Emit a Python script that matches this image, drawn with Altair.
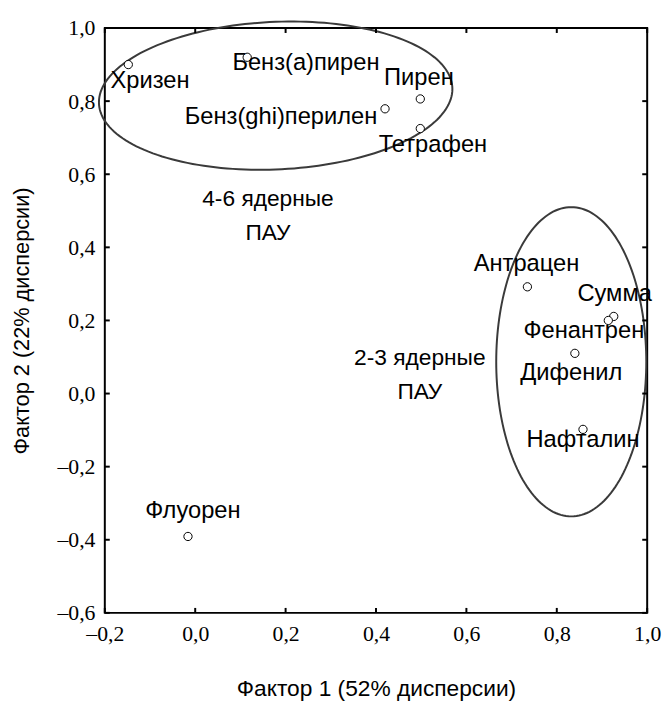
import altair as alt
import pandas as pd
import numpy as np

# Loadings (Factor 1, Factor 2)
names = ["Хризен", "Бенз(а)пирен", "Бенз(ghi)перилен", "Пирен", "Тетрафен",
         "Антрацен", "Сумма", "Фенантрен", "Дифенил", "Нафталин", "Флуорен"]
f1 = [-0.148, 0.115, 0.420, 0.498, 0.498, 0.735, 0.926, 0.914, 0.840, 0.858, -0.016]
f2 = [0.900, 0.920, 0.779, 0.806, 0.725, 0.292, 0.211, 0.200, 0.110, -0.098, -0.391]

# label anchor positions (label centres, data units)
lab_x = [-0.100, 0.245, 0.190, 0.495, 0.526, 0.733, 0.928, 0.860, 0.832, 0.858, -0.005]
lab_y = [0.855, 0.905, 0.755, 0.862, 0.681, 0.354, 0.273, 0.170, 0.057, -0.127, -0.322]

# group annotations
grp_text = ["4-6 ядерные", "ПАУ", "2-3 ядерные", "ПАУ"]
grp_x = [0.161, 0.161, 0.497, 0.497]
grp_y = [0.532, 0.440, 0.097, 0.005]

# ellipses: centre, semi-axes, tilt
ell_cx = [0.178, 0.832]
ell_cy = [0.815, 0.087]
ell_a = [0.391, 0.166]
ell_b = [0.202, 0.423]
ell_tilt = [0.018, 0.0]

x_ticks = [-0.2, 0.0, 0.2, 0.4, 0.6, 0.8, 1.0]
y_ticks = [-0.6, -0.4, -0.2, 0.0, 0.2, 0.4, 0.6, 0.8, 1.0]
x_dom = [-0.2, 1.0]
y_dom = [-0.6, 1.0]

W, H = 549, 592

pts = pd.DataFrame({"name": names, "x": f1, "y": f2})
labs = pd.DataFrame({"name": names, "x": lab_x, "y": lab_y})
grps = pd.DataFrame({"t": grp_text, "x": grp_x, "y": grp_y})

t = np.linspace(0, 2 * np.pi, 181)
rows = []
for i in range(len(ell_cx)):
    for k, tt in enumerate(t):
        rows.append({"e": i, "o": k,
                     "x": ell_cx[i] + ell_a[i] * np.cos(tt),
                     "y": ell_cy[i] + ell_b[i] * np.sin(tt) + ell_tilt[i] * np.cos(tt)})
ell = pd.DataFrame(rows)

lab_expr = "replace(replace(replace(format(datum.value, '.1f'), '.', ','), '\u2212', '\u2013'), '-', '\u2013')"

x_axis = alt.Axis(values=x_ticks, labelExpr=lab_expr, labelFont="Liberation Serif",
                  labelFontSize=22, labelColor="black", labelPadding=11, ticks=False,
                  labelFlush=False, labelOverlap=False,
                  domain=False, grid=False, title="Фактор 1 (52% дисперсии)",
                  titleFont="Liberation Sans", titleFontSize=23, titleFontWeight="normal",
                  titleColor="black", titleX=W / 2, titleY=77, titleBaseline="middle",
                  titleAlign="center")
y_axis = alt.Axis(values=y_ticks, labelExpr=lab_expr, labelFont="Liberation Serif",
                  labelFontSize=22, labelColor="black", labelPadding=10, ticks=False,
                  labelFlush=False, labelOverlap=False,
                  domain=False, grid=False, title="Фактор 2 (22% дисперсии)",
                  titleFont="Liberation Sans", titleFontSize=22, titleFontWeight="normal",
                  titleColor="black", titleX=-84, titleY=H / 2, titleBaseline="middle",
                  titleAlign="center")

X = alt.X("x:Q", scale=alt.Scale(domain=x_dom, nice=False, zero=False), axis=x_axis)
Y = alt.Y("y:Q", scale=alt.Scale(domain=y_dom, nice=False, zero=False), axis=y_axis)

# inward ticks on all four sides
bt = pd.DataFrame({"x": x_ticks, "y": [y_dom[0]] * len(x_ticks)})
tt_ = pd.DataFrame({"x": x_ticks, "y": [y_dom[1]] * len(x_ticks)})
lt = pd.DataFrame({"x": [x_dom[0]] * len(y_ticks), "y": y_ticks})
rt = pd.DataFrame({"x": [x_dom[1]] * len(y_ticks), "y": y_ticks})

tick_bottom = alt.Chart(bt).mark_rule(color="black", strokeWidth=2, y2Offset=-5).encode(x=X, y=Y, y2="y:Q")
tick_top = alt.Chart(tt_).mark_rule(color="black", strokeWidth=2, y2Offset=5).encode(x=X, y=Y, y2="y:Q")
tick_left = alt.Chart(lt).mark_rule(color="black", strokeWidth=2, x2Offset=5).encode(x=X, y=Y, x2="x:Q")
tick_right = alt.Chart(rt).mark_rule(color="black", strokeWidth=2, x2Offset=-5).encode(x=X, y=Y, x2="x:Q")

ellipses = alt.Chart(ell).mark_line(color="#3a3a3a", strokeWidth=2).encode(
    x=X, y=Y, detail="e:N", order="o:Q")

points = alt.Chart(pts).mark_point(shape="circle", size=70, fill="white", filled=False,
                                   stroke="black", strokeWidth=1, opacity=1).encode(x=X, y=Y)

labels = alt.Chart(labs).mark_text(font="Liberation Sans", fontSize=24, color="black",
                                   align="center", baseline="middle").encode(x=X, y=Y, text="name:N")

groups = alt.Chart(grps).mark_text(font="Liberation Sans", fontSize=23, color="black",
                                   align="center", baseline="middle").encode(x=X, y=Y, text="t:N")

chart = alt.layer(ellipses, tick_bottom, tick_top, tick_left, tick_right, points, labels, groups).properties(
    width=W, height=H,
    autosize=alt.AutoSizeParams(type="none"),
    padding={"left": 98, "top": 16, "right": 15, "bottom": 90},
    background="white",
).configure_view(stroke="black", strokeWidth=2)

chart.save("out.html", embed_options={"renderer": "svg", "actions": False})
